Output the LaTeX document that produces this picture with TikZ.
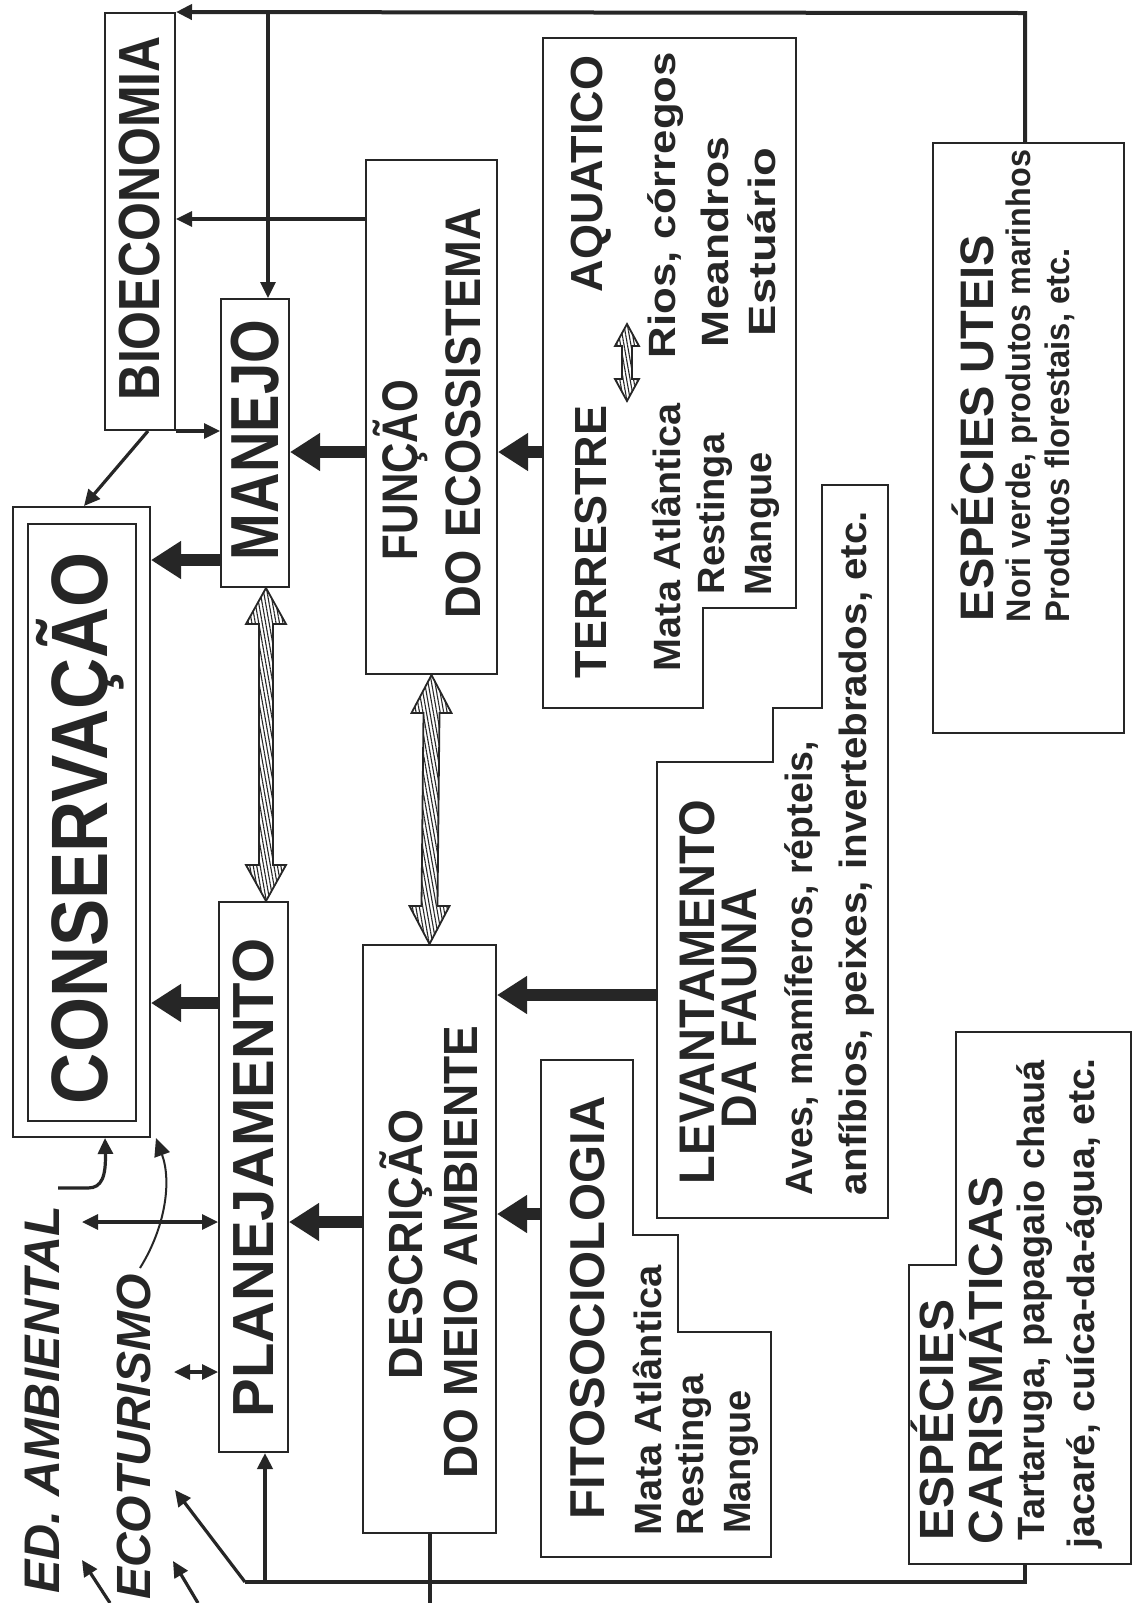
\documentclass[tikz,border=0pt]{standalone}
\usepackage{fontspec}
\setmainfont{Liberation Sans}
\usepackage{graphicx}
\usetikzlibrary{arrows.meta,calc,fit,patterns.meta}
\definecolor{ink}{RGB}{38,38,38}
\newcommand\fsz[1]{\fontsize{#1}{#1}\selectfont\bfseries}
\newcommand\fitw[2]{\resizebox{#1}{\height}{#2}}
\newcommand\hatchv[5]{%
  \draw[hatch] ($(#1)+(-#5,#3)$) -- ($(#1)+(-#4,#3)$) -- (#1) -- ($(#1)+(#4,#3)$) -- ($(#1)+(#5,#3)$)
   -- ($(#2)+(#5,-#3)$) -- ($(#2)+(#4,-#3)$) -- (#2) -- ($(#2)+(-#4,-#3)$) -- ($(#2)+(-#5,-#3)$) -- cycle;}
\begin{document}
\begin{tikzpicture}[x=0.5pt,y=-0.5pt,
  box/.style={draw=ink, line width=1pt, inner sep=0pt},
  lbl/.style={rotate=90, text=ink, inner sep=0pt},
  thin/.style={draw=ink, line width=1.6pt, -{Triangle[length=8pt,width=7.5pt]}},
  thinboth/.style={draw=ink, line width=1.6pt, {Triangle[length=8pt,width=7.5pt]}-{Triangle[length=8pt,width=7.5pt]}},
  thickarr/.style={draw=ink, line width=6pt, -{Triangle[length=15pt,width=18pt]}},
  hatch/.style={draw=ink, line width=0.9pt, pattern={Lines[angle=100,distance=1.7pt,line width=0.55pt]}, pattern color=ink},
  bus/.style={draw=ink, line width=2.2pt}]
\useasboundingbox (0,0) rectangle (1134,1603);
\fill[white] (0,0) rectangle (1134,1603);

% ---- rectangular boxes
\node[box, fit={(105,13) (175,430)}] (bio) {};
\node[box, fit={(221,299) (289,587)}] (manejo) {};
\node[box, fit={(366,160) (497,674)}] (funcao) {};
\node[box, fit={(13,507) (150,1137)}] (cons) {};
\node[box, line width=0.8pt, fit={(28,524) (136,1121)}] (consin) {};
\node[box, fit={(219,902) (288,1452)}] (plan) {};
\node[box, fit={(363,945) (496,1533)}] (desc) {};
\node[box, fit={(933,143) (1124,733)}] (util) {};

% ---- stepped boxes
\draw[box] (543,38) -- (796,38) -- (796,608) -- (703,608) -- (703,708) -- (543,708) -- cycle;
\draw[box] (822,485) -- (888,485) -- (888,1218) -- (657,1218) -- (657,762) -- (773,762) -- (773,708) -- (822,708) -- cycle;
\draw[box] (541,1060) -- (633,1060) -- (633,1235) -- (678,1235) -- (678,1332) -- (771,1332) -- (771,1557) -- (541,1557) -- cycle;
\draw[box] (956,1032) -- (1131,1032) -- (1131,1564) -- (909,1564) -- (909,1265) -- (956,1265) -- cycle;

% ---- titles
\node[lbl, font=\fsz{29}] (tBio) at (140,218) {\fitw{182pt}{BIOECONOMIA}};
\node[lbl, font=\fsz{34}] (tMan) at (255,440) {\fitw{120pt}{MANEJO}};
\node[lbl, font=\fsz{40}] (tCons) at (80,828) {\fitw{276pt}{CONSERVAÇÃO}};
\node[lbl, font=\fsz{25}] (tFun1) at (400,470) {\fitw{90pt}{FUNÇÃO}};
\node[lbl, font=\fsz{25}] (tFun2) at (463,413) {\fitw{205pt}{DO ECOSSISTEMA}};
\node[lbl, font=\fsz{24}] (tDes1) at (406,1244) {\fitw{135pt}{DESCRIÇÃO}};
\node[lbl, font=\fsz{24}] (tDes2) at (461,1252) {\fitw{226pt}{DO MEIO AMBIENTE}};
\node[lbl, font=\fsz{29}] (tPlan) at (254,1178) {PLANEJAMENTO};
\node[lbl, font=\fsz{22.5}] (tTer) at (591,542) {TERRESTRE};
\node[lbl, font=\fsz{22.5}] (tAqu) at (591,174) {AQUATICO};
\node[lbl, font=\fsz{19}] (tRios) at (666,205) {\fitw{153pt}{Rios, córregos}};
\node[lbl, font=\fsz{19}] (tMea) at (715,242) {\fitw{105pt}{Meandros}};
\node[lbl, font=\fsz{19}] (tEst) at (762,242) {\fitw{94pt}{Estuário}};
\node[lbl, font=\fsz{19}] (tMata1) at (666,537) {\fitw{134pt}{Mata Atlântica}};
\node[lbl, font=\fsz{19}] (tRes1) at (715,514) {Restinga};
\node[lbl, font=\fsz{19}] (tMang1) at (762,524) {Mangue};
\node[lbl, font=\fsz{25}] (tLev) at (697,992) {\fitw{192pt}{LEVANTAMENTO}};
\node[lbl, font=\fsz{25}] (tFau) at (740,1008) {\fitw{120pt}{DA FAUNA}};
\node[lbl, font=\fsz{19}] (tAves) at (803,968) {\fitw{227pt}{Aves, mamíferos, répteis,}};
\node[lbl, font=\fsz{19}] (tAnf) at (857,853) {\fitw{342pt}{anfíbios, peixes, invertebrados, etc.}};
\node[lbl, font=\fsz{24.5}] (tFito) at (588,1308) {FITOSOCIOLOGIA};
\node[lbl, font=\fsz{19}] (tMata2) at (647,1400) {\fitw{135pt}{Mata Atlântica}};
\node[lbl, font=\fsz{19}] (tRes2) at (694,1455) {Restinga};
\node[lbl, font=\fsz{19}] (tMang2) at (741,1462) {Mangue};
\node[lbl, font=\fsz{23.5}] (tUt) at (973,428) {ESPÉCIES UTEIS};
\node[lbl, font=\fsz{17}] (tNori) at (1022,386) {\fitw{236pt}{Nori verde, produtos marinhos}};
\node[lbl, font=\fsz{17}] (tProd) at (1060,435) {\fitw{187pt}{Produtos florestais, etc.}};
\node[lbl, font=\fsz{24}] (tEsp) at (932,1420) {ESPÉCIES};
\node[lbl, font=\fsz{24}] (tCar) at (981,1360) {CARISMÁTICAS};
\node[lbl, font=\fsz{19}] (tTart) at (1035,1300) {\fitw{240pt}{Tartaruga, papagaio chauá}};
\node[lbl, font=\fsz{19}] (tJac) at (1085,1303) {\fitw{245pt}{jacaré, cuíca-da-água, etc.}};
\node[lbl, font=\fsz{25}\itshape] (tEd) at (42,1400) {ED. AMBIENTAL};
\node[lbl, font=\fsz{24}\itshape] (tEco) at (134,1437) {ECOTURISMO};

% ---- named connection points
\coordinate (topR) at (1025,13);
\coordinate (topM) at (268,13);
\coordinate (y219) at (0,219);
\coordinate (bioS) at ($(bio.south)+(8,0)$);
\coordinate (consN) at ($(cons.north west)+(72,0)$);
\coordinate (yA) at (0,560);
\coordinate (yB) at (0,452);
\coordinate (terrW) at (543,452);
\coordinate (yC) at (0,1003);
\coordinate (levW) at (657,995);
\coordinate (yD) at (0,1222);
\coordinate (fitW) at (541,1214);
\coordinate (x266) at (266,0);
\coordinate (ta1) at (627,324);
\coordinate (ta2) at (627,401);
\coordinate (edR) at (82,1222);
\coordinate (ecoR) at (174,1372);
\coordinate (edTop) at (58,1188);
\coordinate (ecoTop) at (140,1268);
\coordinate (consS1) at ($(cons.south west)+(93,0)$);
\coordinate (consS2) at ($(cons.south west)+(144,0)$);
\coordinate (carB) at (1025,1564);
\coordinate (busR) at (1025,1582);
\coordinate (busL) at (245,1582);
\coordinate (bus265) at (265,1582);
\coordinate (ecoB) at (175,1490);
\coordinate (descEnd) at (430,1603);
\coordinate (b1) at (110,1603);
\coordinate (e1) at (82,1560);
\coordinate (b2) at (198,1603);
\coordinate (e2) at (173,1561);

% ---- thin connectors
\draw[thin, line width=2pt] (util.north -| topR) -- (topR) -- (bio.north east);
\draw[thin] (topM) -- (manejo.north -| topM);
\draw[thin] (funcao.west |- y219) -- (bio.east |- y219);
\draw[thin] (bio.south east) -- (manejo.west |- bio.south east);
\draw[thin] (bioS) -- (consN);

% ---- thick arrows
\draw[thickarr] (manejo.west |- yA) -- (cons.east |- yA);
\draw[thickarr] (funcao.west |- yB) -- (manejo.east |- yB);
\draw[thickarr] (terrW) -- (funcao.east |- terrW);
\draw[thickarr] (plan.west |- yC) -- (cons.east |- yC);
\draw[thickarr] (levW) -- (desc.east |- levW);
\draw[thickarr] (desc.west |- yD) -- (plan.east |- yD);
\draw[thickarr] (fitW) -- (desc.east |- fitW);

% ---- hatched double arrows
\coordinate (h1a) at (manejo.south -| x266);
\coordinate (h1b) at (plan.north -| x266);
\hatchv{h1a}{h1b}{36}{20}{7}
\hatchv{funcao.south}{desc.north}{38}{20}{8}
\hatchv{ta1}{ta2}{22}{12}{5}

% ---- left side arrows
\draw[thinboth] (plan.west |- yD) -- (edR);
\draw[thinboth] (plan.west |- ecoR) -- (ecoR);
\draw[thin] (edTop) -- (88,1188) .. controls (102,1188) and (106,1176) .. (consS1);
\draw[draw=ink, line width=1pt, -{Triangle[length=9pt,width=8pt]}] (ecoTop) .. controls (165,1228) and (172,1182) .. (consS2);

% ---- bottom bus
\draw[bus] (carB) -- (busR) -- (busL);
\draw[thin, line width=2pt] (bus265) -- (plan.south -| bus265);
\draw[thin] (busL) -- (ecoB);
\draw[draw=ink, line width=1.8pt] (desc.south -| descEnd) -- (descEnd);
\draw[thin] (b1) -- (e1);
\draw[thin] (b2) -- (e2);
\end{tikzpicture}
\end{document}
